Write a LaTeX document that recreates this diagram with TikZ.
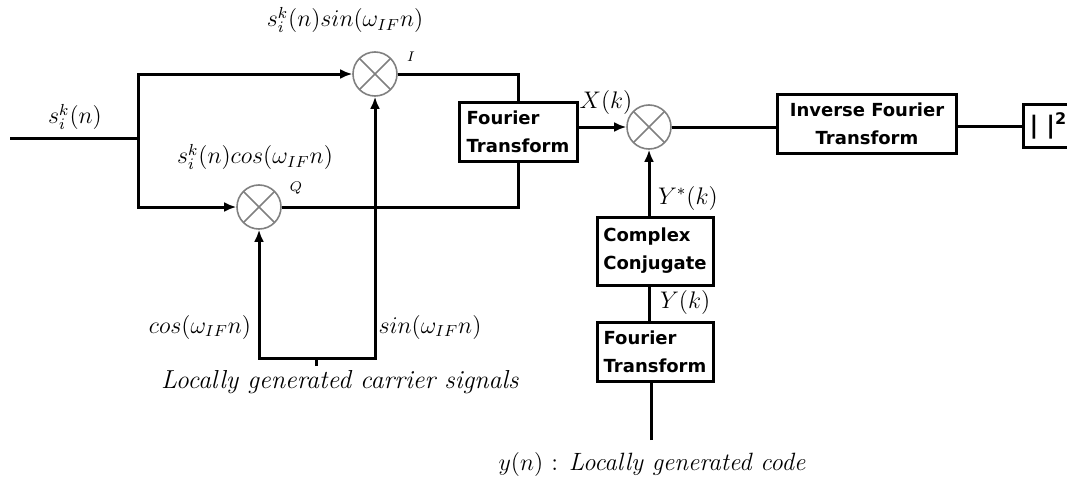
\documentclass[tikz,border=0pt]{standalone}
\usepackage{amsmath}
\usepackage{fontspec}
\newfontfamily\blockfont{DejaVu Sans}
\usetikzlibrary{arrows.meta,positioning}

\tikzset{
  sig/.style={line width=1.5pt, -{Latex[length=6pt,width=5pt]}},
  wire/.style={line width=1.5pt},
  block/.style={draw, line width=1.5pt, align=left, inner sep=2pt,
    font=\blockfont\bfseries\fontsize{9}{14}\selectfont},
  mixer/.style={circle, draw=gray, line width=0.8pt, minimum size=22pt, inner sep=0pt,
    path picture={\draw[gray, line width=0.8pt]
      (path picture bounding box.north west) -- (path picture bounding box.south east)
      (path picture bounding box.north east) -- (path picture bounding box.south west);}},
  lab/.style={font=\fontsize{12}{14}\selectfont}
}

\begin{document}
\begin{tikzpicture}[x=0.5pt, y=-0.5pt]
    \useasboundingbox (0,0) rectangle (1067,482);

    % mixers and blocks
    \node[mixer] (mixI) at (375,74) {};
    \node[mixer] (mixQ) at (259,207) {};
    \node[mixer] (mixX) at (649,127) {};
    \node[block, minimum width=59pt, minimum height=29.5pt] (ft1) at (518,132) {Fourier\\Transform};
    \node[block, minimum width=58pt, minimum height=34pt] (cc) at (655,251) {Complex\\Conjugate};
    \node[block, minimum width=58pt, minimum height=29.5pt] (ft2) at (655,352) {Fourier\\Transform};
    \node[block, align=center, minimum width=89.5pt, minimum height=29.5pt] (ift) at (867,124) {Inverse Fourier\\Transform};
    \node[block, anchor=west, minimum width=32pt, minimum height=21.5pt, text width=26pt,
      font=\blockfont\bfseries\fontsize{12}{14}\selectfont] (abs) at (1022,126) {| |\textsuperscript{2}};

    \coordinate (in0) at (10,138);
    \coordinate (br) at (138,138);
    \coordinate (car) at (316,358);
    \coordinate (lo) at (316,366);
    \coordinate (yin) at (651,440);

    % I/Q branch
    \draw[wire] (in0) -- (br);
    \draw[sig] (br) |- (mixI);
    \draw[sig] (br) |- (mixQ);
    \draw[wire] (mixI) -| (ft1);
    \draw[wire] (mixQ) -| (ft1);
    \draw[wire] (lo) -- (car);
    \draw[sig] (car) -| (mixQ);
    \draw[sig] (car) -| (mixI);

    % correlation
    \draw[sig] (ft1.east |- mixX) -- (mixX);
    \draw[wire] (mixX) -- (mixX -| ift.west);
    \draw[wire] (ift.east |- abs) -- (abs);
    \draw[sig] (cc.north -| mixX) -- (mixX);
    \draw[wire] (ft2.north -| mixX) -- (cc.south -| mixX);
    \draw[wire] (yin) -- (yin |- ft2.south);

    % labels
    \node[lab] (lin) at (75,117) {$s_i^k(n)$};
    \node[lab] (lsin) at (345,20) {$s_i^k(n)sin(\omega_{IF}n)$};
    \node[lab] (lcos) at (255,157) {$s_i^k(n)cos(\omega_{IF}n)$};
    \node[font=\fontsize{7}{8}\selectfont] (lI) at (411,57) {$I$};
    \node[font=\fontsize{7}{8}\selectfont] (lQ) at (296,188) {$Q$};
    \node[lab] (lX) at (606,102) {$X(k)$};
    \node[lab, anchor=west] (lYs) at (651,198) {$Y^{*}(k)$};
    \node[lab, anchor=west] (lY) at (653,302) {$Y(k)$};
    \node[lab] (lc) at (200,327) {$cos(\omega_{IF}n)$};
    \node[lab] (ls) at (430,327) {$sin(\omega_{IF}n)$};
    \node[lab, font=\fontsize{13}{15}\selectfont] (lloc) at (340,382) {\textit{Locally generated carrier signals}};
    \node[lab, font=\fontsize{12.5}{15}\selectfont] (lcode) at (652,464) {$y(n)$ : \textit{Locally generated code}};
\end{tikzpicture}
\end{document}
